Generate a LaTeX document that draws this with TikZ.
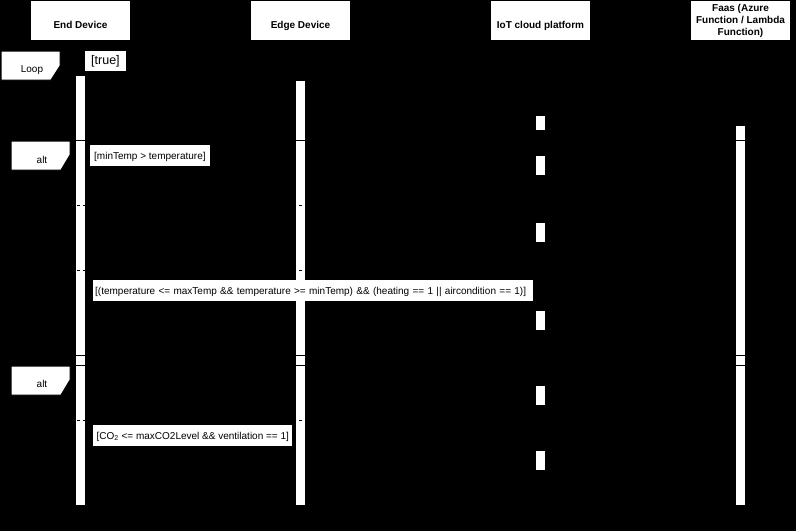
\documentclass[tikz,border=0pt]{standalone}
\usepackage{fontspec}
\setmainfont{Liberation Sans}
\usetikzlibrary{positioning}

\begin{document}
\begin{tikzpicture}[x=1pt, y=-1pt, font=\fontsize{10}{12}\selectfont,
   head/.style={fill=white, minimum width=99pt, minimum height=39pt, inner sep=0pt, align=center, font=\fontsize{10}{12}\selectfont\bfseries},
   headone/.style={head, text height=15pt, text depth=0pt},
   bar/.style={fill=white, minimum width=9pt, inner sep=0pt, anchor=north},
   tag/.style={fill=white, draw=black, line width=1pt},
   guard/.style={fill=white, anchor=north west, inner xsep=4pt, inner ysep=0pt, minimum height=21pt, text height=9pt, text depth=2pt},
   frame/.style={draw=black, line width=1pt},
   sep/.style={black, line width=1pt, dash pattern=on 3pt off 3pt}]
   \fill[black] (0,0) rectangle (796,531);
   % lifeline heads
   \node[headone] (enddev)   at (80.5,20.5)  {End Device};
   \node[headone] (edgedev)  at (300.5,20.5) {Edge Device};
   \node[headone] (iotcloud) at (540.5,20.5) {IoT cloud platform};
   \node[head]    (faas)     at (740.5,20.5) {Faas (Azure\\Function / Lambda\\Function)};
   % activation bars
   \node[bar, minimum height=429pt] (endbar)  at (80.5,76)  {};
   \node[bar, minimum height=424pt] (edgebar) at (300.5,81) {};
   \node[bar, minimum height=379pt] (faasbar) at (740.5,126) {};
   \foreach \i/\t/\h in {1/116/14, 2/156/19, 3/223/19, 4/311/19, 5/386/19, 6/451/19}
      \node[bar, minimum height=\h pt] (iotbar\i) at (540.5,\t) {};
   % loop fragment
   \draw[tag] (1,51) -- (60,51) -- (60,66) -- (51,80) -- (1,80) -- cycle;
   \node[anchor=base] (looptag) at (32,72.5) {Loop};
   \node[guard, inner xsep=6pt, minimum height=20pt, text height=9pt, text depth=3pt, font=\fontsize{12.5}{14}\selectfont] (looptrue) at (85,51) {[true]};
   % alt fragments
   \draw[frame] (11,140) rectangle (792,355);
   \draw[frame] (11,365) rectangle (792,515);
   \draw[sep] (11,205) -- (400,205);
   \draw[sep] (11,270) -- (400,270);
   \draw[sep] (11,420) -- (400,420);
   \draw[tag] (11,141) -- (70,141) -- (70,155) -- (61,170) -- (11,170) -- cycle;
   \node[anchor=base] (alttag1) at (42,163) {alt};
   \draw[tag] (11,366) -- (70,366) -- (70,380) -- (61,395) -- (11,395) -- cycle;
   \node[anchor=base] (alttag2) at (42,387.5) {alt};
   % guards
   \node[guard, text height=10pt, text depth=1.5pt] (guard1) at (90,145) {[minTemp > temperature]};
   \node[guard, inner xsep=2pt, text width=436pt, align=left] (guard2) at (93,280) {[(temperature <= maxTemp \&\& temperature >= minTemp) \&\& (heating == 1 || aircondition == 1)]};
   \node[guard, inner xsep=3.5pt] (guard3) at (93,425) {[CO\textsubscript{2} <= maxCO2Level \&\& ventilation == 1]};
\end{tikzpicture}
\end{document}
